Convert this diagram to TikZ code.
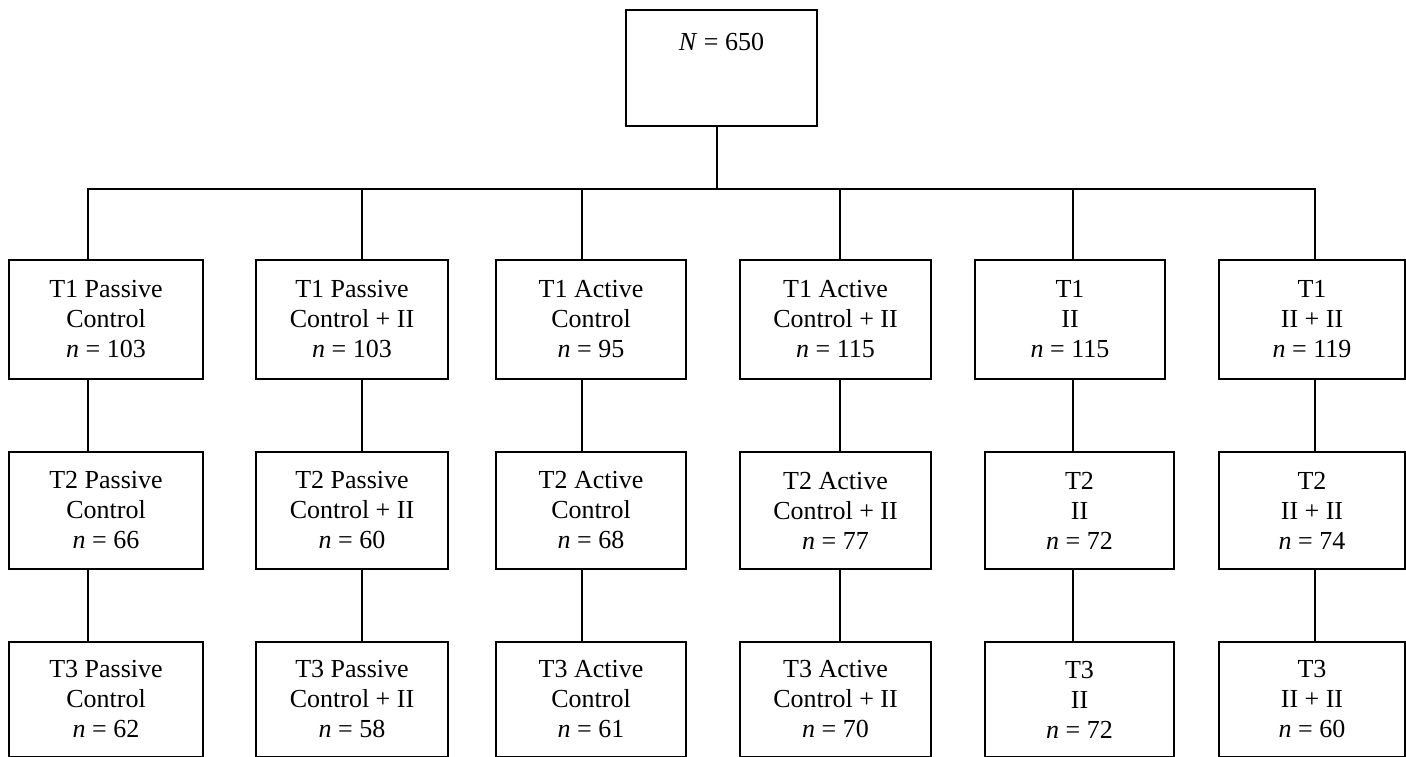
\documentclass[tikz,border=0pt]{standalone}
\usepackage{fontspec}
\setmainfont{Liberation Serif}
\begin{document}
\begin{tikzpicture}[x=0.5pt,y=-0.5pt,
  every path/.style={line width=1.3pt},
  box/.style={draw, line width=1.3pt, align=center, inner sep=0pt,
    font=\fontsize{13pt}{15pt}\selectfont},
  conn/.style={draw, line width=1.3pt}]
\useasboundingbox (0,0) rectangle (1406,756);
% top box
\node[box, minimum width=95.5pt, inner ysep=0pt, text height=20pt, text depth=38pt] (top) at (721.5,68) {\textit{N} = 650};
% row 1
\node[box, minimum width=97pt, minimum height=59.5pt] (a1) at (106,319.5) {T1 Passive\\Control\\\textit{n} = 103};
\node[box, minimum width=96pt, minimum height=59.5pt] (a2) at (352,319.5) {T1 Passive\\Control + II\\\textit{n} = 103};
\node[box, minimum width=95pt, minimum height=59.5pt] (a3) at (591,319.5) {T1 Active\\Control\\\textit{n} = 95};
\node[box, minimum width=95.5pt, minimum height=59.5pt] (a4) at (835.5,319.5) {T1 Active\\Control + II\\\textit{n} = 115};
\node[box, minimum width=95pt, minimum height=59.5pt] (a5) at (1070,319.5) {T1\\II\\\textit{n} = 115};
\node[box, minimum width=93pt, minimum height=59.5pt] (a6) at (1312,319.5) {T1\\II + II\\\textit{n} = 119};
% row 2
\node[box, minimum width=97pt, minimum height=58.5pt] (b1) at (106,510.5) {T2 Passive\\Control\\\textit{n} = 66};
\node[box, minimum width=96pt, minimum height=58.5pt] (b2) at (352,510.5) {T2 Passive\\Control + II\\\textit{n} = 60};
\node[box, minimum width=95pt, minimum height=58.5pt] (b3) at (591,510.5) {T2 Active\\Control\\\textit{n} = 68};
\node[box, minimum width=95.5pt, minimum height=58.5pt] (b4) at (835.5,510.5) {T2 Active\\Control + II\\\textit{n} = 77};
\node[box, minimum width=94.5pt, minimum height=58.5pt] (b5) at (1079.5,510.5) {T2\\II\\\textit{n} = 72};
\node[box, minimum width=93pt, minimum height=58.5pt] (b6) at (1312,510.5) {T2\\II + II\\\textit{n} = 74};
% row 3
\node[box, minimum width=97pt, minimum height=57.5pt] (c1) at (106,699.5) {T3 Passive\\Control\\\textit{n} = 62};
\node[box, minimum width=96pt, minimum height=57.5pt] (c2) at (352,699.5) {T3 Passive\\Control + II\\\textit{n} = 58};
\node[box, minimum width=95pt, minimum height=57.5pt] (c3) at (591,699.5) {T3 Active\\Control\\\textit{n} = 61};
\node[box, minimum width=95.5pt, minimum height=57.5pt] (c4) at (835.5,699.5) {T3 Active\\Control + II\\\textit{n} = 70};
\node[box, minimum width=94.5pt, minimum height=57.5pt] (c5) at (1079.5,699.5) {T3\\II\\\textit{n} = 72};
\node[box, minimum width=93pt, minimum height=57.5pt] (c6) at (1312,699.5) {T3\\II + II\\\textit{n} = 60};
% connector x positions
\coordinate (l0) at (717,189);
\coordinate (l1) at (88,189);
\coordinate (l2) at (362,189);
\coordinate (l3) at (582,189);
\coordinate (l4) at (840,189);
\coordinate (l5) at (1073,189);
\coordinate (l6) at (1315,189);
% connectors
\draw[conn] (top.south -| l0) -- (l0);
\draw[conn] (a1.north -| l1) -- (l1) -- (l6) -- (a6.north -| l6);
\foreach \i in {2,3,4,5}{
  \draw[conn] (l\i) -- (a\i.north -| l\i);
}
\foreach \i in {1,...,6}{
  \draw[conn] (a\i.south -| l\i) -- (b\i.north -| l\i);
  \draw[conn] (b\i.south -| l\i) -- (c\i.north -| l\i);
}
\end{tikzpicture}
\end{document}
